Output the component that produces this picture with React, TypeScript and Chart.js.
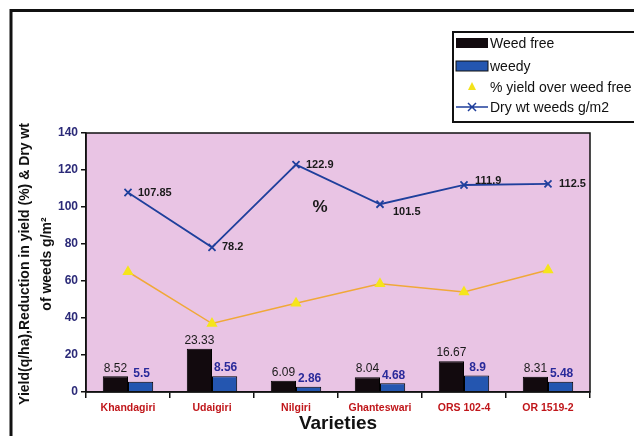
import React, { useEffect, useRef } from "react";
import { Chart, registerables } from "chart.js";

Chart.register(...registerables);

const categories = ["Khandagiri", "Udaigiri", "Nilgiri", "Ghanteswari", "ORS 102-4", "OR 1519-2"];
const weedFree = [8.52, 23.33, 6.09, 8.04, 16.67, 8.31];
const weedy = [5.5, 8.56, 2.86, 4.68, 8.9, 5.48];
const yieldOverWeedFree = [65, 37, 48, 58.5, 54, 66];
const dryWtWeeds = [107.85, 78.2, 122.9, 101.5, 111.9, 112.5];
const yMin = 0;
const yMax = 140;
const yStep = 20;

const legendLabels = ["Weed free", "weedy", "% yield over weed free", "Dry wt weeds g/m2"];
const yTitle1 = "Yield(q/ha),Reduction in yield (%) & Dry wt";
const yTitle2 = "of weeds g/m²";
const xTitle = "Varieties";
const annotationText = "%";

// label offsets (style only)
const dryLabelOffsets = [
  [10, 0],
  [10, 0],
  [10, 0],
  [13, 8],
  [11, -4],
  [11, 0],
];

const FONT = "Arial, 'Liberation Sans', sans-serif";
const BLUE = "#1f3f9c";
const BAR_BLUE = "#2456b0";
const PINK = "#e9c4e4";

const customPlugin = {
  id: "custom",
  beforeDraw(chart: any) {
    const { ctx, chartArea: a } = chart;
    ctx.save();
    ctx.fillStyle = "#ffffff";
    ctx.fillRect(0, 0, chart.width, chart.height);
    ctx.fillStyle = PINK;
    ctx.fillRect(a.left, a.top, a.right - a.left, a.bottom - a.top);
    ctx.restore();
  },
  afterDraw(chart: any) {
    const { ctx, chartArea: a } = chart;
    ctx.save();
    // plot border
    ctx.strokeStyle = "#111";
    ctx.lineWidth = 1.5;
    ctx.strokeRect(a.left, a.top, a.right - a.left, a.bottom - a.top);

    // outer frame
    ctx.lineWidth = 3;
    ctx.beginPath();
    ctx.moveTo(11, chart.height);
    ctx.lineTo(11, 10.5);
    ctx.lineTo(chart.width, 10.5);
    ctx.stroke();

    // bar labels
    const m0 = chart.getDatasetMeta(0);
    const m1 = chart.getDatasetMeta(1);
    ctx.textAlign = "center";
    ctx.textBaseline = "bottom";
    m0.data.forEach((el: any, i: number) => {
      ctx.font = `12px ${FONT}`;
      ctx.fillStyle = "#1a1a1a";
      ctx.fillText(String(weedFree[i]), el.x, el.y - 2);
    });
    m1.data.forEach((el: any, i: number) => {
      ctx.font = `bold 12px ${FONT}`;
      ctx.fillStyle = "#2a2a9a";
      ctx.fillText(String(weedy[i]), el.x + 1, el.y - 2);
    });

    // dry wt labels
    const m3 = chart.getDatasetMeta(3);
    ctx.textAlign = "left";
    ctx.textBaseline = "middle";
    ctx.font = `bold 11px ${FONT}`;
    ctx.fillStyle = "#1a1a1a";
    m3.data.forEach((el: any, i: number) => {
      const [dx, dy] = dryLabelOffsets[i];
      ctx.fillText(String(dryWtWeeds[i]), el.x + dx, el.y + dy);
    });

    // % annotation
    ctx.font = `bold 17px ${FONT}`;
    ctx.textAlign = "center";
    ctx.fillText(annotationText, 320, 207);

    // y title
    ctx.save();
    ctx.translate(25, 264);
    ctx.rotate(-Math.PI / 2);
    ctx.font = `bold 14px ${FONT}`;
    ctx.fillStyle = "#111";
    ctx.textAlign = "center";
    ctx.textBaseline = "middle";
    ctx.fillText(yTitle1, 0, 0);
    ctx.fillText(yTitle2, 0, 22);
    ctx.restore();

    // x title
    ctx.font = `bold 19px ${FONT}`;
    ctx.fillStyle = "#111";
    ctx.textAlign = "center";
    ctx.textBaseline = "middle";
    ctx.fillText(xTitle, 338, 424);

    // legend
    const lx = 453, ly = 32, lw = 190, lh = 90;
    ctx.fillStyle = "#ffffff";
    ctx.fillRect(lx, ly, lw, lh);
    ctx.lineWidth = 2;
    ctx.strokeStyle = "#111";
    ctx.strokeRect(lx, ly, lw, lh);
    const rows = [43, 66, 87, 107];
    ctx.font = `14px ${FONT}`;
    ctx.textAlign = "left";
    ctx.textBaseline = "middle";
    rows.forEach((ry, i) => {
      if (i === 0) {
        ctx.fillStyle = "#120a0e";
        ctx.fillRect(456, ry - 5, 32, 10);
      } else if (i === 1) {
        ctx.fillStyle = BAR_BLUE;
        ctx.fillRect(456, ry - 5, 32, 10);
        ctx.lineWidth = 1;
        ctx.strokeStyle = "#111";
        ctx.strokeRect(456, ry - 5, 32, 10);
      } else if (i === 2) {
        ctx.fillStyle = "#f3e21a";
        ctx.beginPath();
        ctx.moveTo(472, ry - 5);
        ctx.lineTo(476, ry + 3);
        ctx.lineTo(468, ry + 3);
        ctx.closePath();
        ctx.fill();
      } else {
        ctx.strokeStyle = BLUE;
        ctx.lineWidth = 1.5;
        ctx.beginPath();
        ctx.moveTo(456, ry);
        ctx.lineTo(488, ry);
        ctx.moveTo(468, ry - 4);
        ctx.lineTo(476, ry + 4);
        ctx.moveTo(476, ry - 4);
        ctx.lineTo(468, ry + 4);
        ctx.stroke();
      }
      ctx.fillStyle = "#111";
      ctx.fillText(legendLabels[i], 490, ry + 1);
    });
    ctx.restore();
  },
};

export default function App() {
  const ref = useRef<HTMLCanvasElement | null>(null);
  useEffect(() => {
    if (!ref.current) return;
    const chart = new Chart(ref.current, {
      type: "bar",
      data: {
        labels: categories,
        datasets: [
          {
            type: "bar",
            label: legendLabels[0],
            data: weedFree,
            backgroundColor: "#120a0e",
            borderColor: "#000",
            borderWidth: 1,
            categoryPercentage: 0.6,
            barPercentage: 1,
            order: 2,
          },
          {
            type: "bar",
            label: legendLabels[1],
            data: weedy,
            backgroundColor: BAR_BLUE,
            borderColor: "#000",
            borderWidth: 1,
            categoryPercentage: 0.6,
            barPercentage: 1,
            order: 2,
          },
          {
            type: "line",
            label: legendLabels[2],
            data: yieldOverWeedFree,
            borderColor: "#f0a838",
            borderWidth: 1.5,
            pointStyle: "triangle",
            pointRadius: 5,
            pointBackgroundColor: "#f5e51c",
            pointBorderColor: "#f5e51c",
            order: 1,
          },
          {
            type: "line",
            label: legendLabels[3],
            data: dryWtWeeds,
            borderColor: BLUE,
            borderWidth: 1.8,
            pointStyle: "crossRot",
            pointRadius: 5,
            pointBorderWidth: 1.8,
            pointBorderColor: BLUE,
            order: 0,
          },
        ],
      },
      options: {
        animation: false,
        responsive: true,
        maintainAspectRatio: false,
        layout: { padding: { left: 0, right: 44, top: 133, bottom: 0 } },
        plugins: {
          legend: { display: false },
          tooltip: { enabled: false },
          title: { display: false },
        },
        scales: {
          x: {
            offset: true,
            grid: {
              offset: true,
              drawOnChartArea: false,
              drawTicks: true,
              tickLength: 6,
              color: "#111",
              lineWidth: 1.5,
            },
            border: { display: true, color: "#111", width: 1.5 },
            ticks: {
              color: "#c0161a",
              font: { family: FONT, size: 10.5, weight: "bold" },
              padding: 4,
              maxRotation: 0,
            },
            afterFit: (s: any) => {
              s.height = 44;
            },
          },
          y: {
            min: yMin,
            max: yMax,
            ticks: {
              stepSize: yStep,
              color: "#2b2a78",
              font: { family: FONT, size: 12, weight: "bold" },
              padding: 3,
            },
            grid: {
              drawOnChartArea: false,
              drawTicks: true,
              tickLength: 5,
              color: "#111",
              lineWidth: 1.5,
            },
            border: { display: true, color: "#111", width: 1.5 },
            afterFit: (s: any) => {
              s.width = 86;
            },
          },
        },
      },
      plugins: [customPlugin],
    });
    return () => chart.destroy();
  }, []);

  return (
    <div style={{ position: "absolute", left: 0, top: 0, width: 634, height: 436, background: "#fff" }}>
      <canvas ref={ref} />
    </div>
  );
}
